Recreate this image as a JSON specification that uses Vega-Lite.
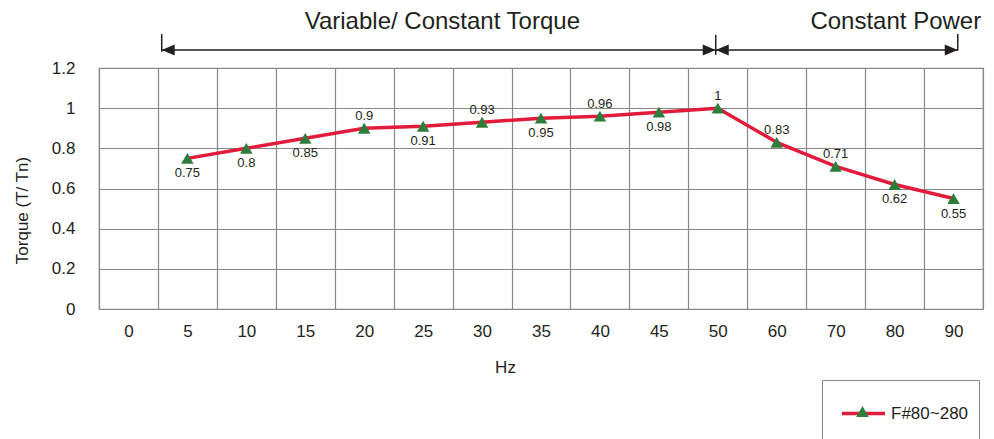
{
  "$schema": "https://vega.github.io/schema/vega-lite/v6.json",
  "autosize": "none",
  "width": 884,
  "height": 241,
  "padding": {"left": 99, "top": 68, "right": 11, "bottom": 130},
  "background": "white",
  "config": {
    "font": "Liberation Sans",
    "view": {"stroke": "#888", "strokeWidth": 1.2},
    "axis": {"labelColor": "#231f20", "titleColor": "#231f20", "titleFontWeight": "normal"}
  },
  "datasets": {
    "torque": [
      {"Hz": 5, "Torque": 0.75, "series": "F#80~280"},
      {"Hz": 10, "Torque": 0.8, "series": "F#80~280"},
      {"Hz": 15, "Torque": 0.85, "series": "F#80~280"},
      {"Hz": 20, "Torque": 0.9, "series": "F#80~280"},
      {"Hz": 25, "Torque": 0.91, "series": "F#80~280"},
      {"Hz": 30, "Torque": 0.93, "series": "F#80~280"},
      {"Hz": 35, "Torque": 0.95, "series": "F#80~280"},
      {"Hz": 40, "Torque": 0.96, "series": "F#80~280"},
      {"Hz": 45, "Torque": 0.98, "series": "F#80~280"},
      {"Hz": 50, "Torque": 1, "series": "F#80~280"},
      {"Hz": 60, "Torque": 0.83, "series": "F#80~280"},
      {"Hz": 70, "Torque": 0.71, "series": "F#80~280"},
      {"Hz": 80, "Torque": 0.62, "series": "F#80~280"},
      {"Hz": 90, "Torque": 0.55, "series": "F#80~280"}
    ],
    "spans": [
      {"from": 1.064, "to": 10.465, "level": 1.29},
      {"from": 10.465, "to": 14.572, "level": 1.29}
    ],
    "ticks": [
      {"at": 1.064, "top": 1.369, "bottom": 1.281},
      {"at": 10.465, "top": 1.365, "bottom": 1.265},
      {"at": 14.572, "top": 1.369, "bottom": 1.286}
    ],
    "heads": [
      {"tip": 1.064, "level": 1.29, "dir": "left"},
      {"tip": 10.465, "level": 1.29, "dir": "right"},
      {"tip": 10.465, "level": 1.29, "dir": "left"},
      {"tip": 14.572, "level": 1.29, "dir": "right"}
    ],
    "labels": [
      {"text": "Variable/ Constant Torque", "at": 5.826, "level": 1.395},
      {"text": "Constant Power", "at": 13.52, "level": 1.395}
    ]
  },
  "layer": [
    {
      "data": {"name": "torque"},
      "encoding": {
        "x": {
          "field": "Hz",
          "type": "ordinal",
          "bandPosition": 0.5,
          "scale": {"type": "band", "domain": [0, 5, 10, 15, 20, 25, 30, 35, 40, 45, 50, 60, 70, 80, 90], "paddingInner": 0, "paddingOuter": 0},
          "axis": {
            "title": "Hz",
            "titleFontSize": 17,
            "titlePadding": 20,
            "titleX": 406,
            "labelFontSize": 17,
            "labelPadding": 14,
            "labelAngle": 0,
            "ticks": false,
            "domain": false,
            "grid": true,
            "tickBand": "extent",
            "gridColor": "#888",
            "gridWidth": 1.2
          }
        },
        "y": {
          "field": "Torque",
          "type": "quantitative",
          "scale": {"domain": [0, 1.2]},
          "axis": {
            "title": "Torque (T/ Tn)",
            "titleFontSize": 17,
            "titlePadding": 20,
            "titleY": 142,
            "values": [0, 0.2, 0.4, 0.6, 0.8, 1, 1.2],
            "format": "~g",
            "labelFontSize": 17,
            "labelPadding": 24,
            "ticks": false,
            "domain": false,
            "grid": true,
            "gridColor": "#888",
            "gridWidth": 1.2
          }
        }
      },
      "layer": [
        {
          "mark": {"type": "line", "strokeWidth": 3.5},
          "encoding": {
            "color": {
              "field": "series",
              "type": "nominal",
              "scale": {"domain": ["F#80~280"], "range": ["#e31b3b"]},
              "legend": {
                "orient": "none",
                "legendX": 723,
                "legendY": 312,
                "title": " ",
                "titleOrient": "bottom",
                "titleFontSize": 10,
                "titlePadding": 8,
                "symbolType": "stroke",
                "symbolSize": 1849,
                "symbolStrokeWidth": 3.5,
                "labelFontSize": 17,
                "labelColor": "#231f20",
                "labelExpr": "datum.label + '  '",
                "padding": 10,
                "symbolOffset": 8,
                "strokeColor": "#888",
                "fillColor": "white"
              }
            }
          }
        },
        {
          "mark": {"type": "point", "filled": true, "color": "#2e7d3a", "size": 156, "opacity": 1},
          "encoding": {
            "shape": {
              "field": "series",
              "type": "nominal",
              "scale": {"range": ["triangle-up"]},
              "legend": {
                "orient": "none",
                "legendX": 757,
                "legendY": 337,
                "title": null,
                "symbolSize": 156,
                "symbolFillColor": "#2e7d3a",
                "symbolStrokeWidth": 0,
                "symbolOpacity": 1,
                "labelExpr": "''",
                "labelFontSize": 1,
                "padding": 0,
                "zindex": 1
              }
            }
          }
        },
        {
          "transform": [{"filter": "indexof([20, 30, 40, 50, 60, 70], datum.Hz) >= 0"}],
          "mark": {"type": "text", "fontSize": 13, "dy": -12.5, "baseline": "middle", "color": "#231f20"},
          "encoding": {"text": {"field": "Torque", "type": "quantitative", "format": "~g"}}
        },
        {
          "transform": [{"filter": "indexof([20, 30, 40, 50, 60, 70], datum.Hz) < 0"}],
          "mark": {"type": "text", "fontSize": 13, "dy": 15, "baseline": "middle", "color": "#231f20"},
          "encoding": {"text": {"field": "Torque", "type": "quantitative", "format": "~g"}}
        }
      ]
    },
    {
      "layer": [
        {
          "data": {"name": "spans"},
          "mark": {"type": "rule", "strokeWidth": 1.5, "color": "#231f20"},
          "encoding": {
            "x": {"field": "from", "type": "quantitative", "scale": {"domain": [0, 15], "nice": false, "zero": false}, "axis": null},
            "x2": {"field": "to"},
            "y": {"field": "level", "type": "quantitative", "scale": {"domain": [0, 1.2]}, "axis": null}
          }
        },
        {
          "data": {"name": "ticks"},
          "mark": {"type": "rule", "strokeWidth": 1.5, "color": "#231f20"},
          "encoding": {
            "x": {"field": "at", "type": "quantitative", "scale": {"domain": [0, 15], "nice": false, "zero": false}, "axis": null},
            "y": {"field": "top", "type": "quantitative", "scale": {"domain": [0, 1.2]}, "axis": null},
            "y2": {"field": "bottom"}
          }
        },
        {
          "data": {"name": "heads"},
          "transform": [{"filter": "datum.dir == 'right'"}],
          "mark": {"type": "point", "filled": true, "color": "#231f20", "opacity": 1, "size": 169, "shape": "M0,0L-2,-0.85L-2,0.85Z"},
          "encoding": {
            "x": {"field": "tip", "type": "quantitative", "scale": {"domain": [0, 15], "nice": false, "zero": false}, "axis": null},
            "y": {"field": "level", "type": "quantitative", "scale": {"domain": [0, 1.2]}, "axis": null}
          }
        },
        {
          "data": {"name": "heads"},
          "transform": [{"filter": "datum.dir == 'left'"}],
          "mark": {"type": "point", "filled": true, "color": "#231f20", "opacity": 1, "size": 169, "shape": "M0,0L2,-0.85L2,0.85Z"},
          "encoding": {
            "x": {"field": "tip", "type": "quantitative", "scale": {"domain": [0, 15], "nice": false, "zero": false}, "axis": null},
            "y": {"field": "level", "type": "quantitative", "scale": {"domain": [0, 1.2]}, "axis": null}
          }
        },
        {
          "data": {"name": "labels"},
          "mark": {"type": "text", "fontSize": 24, "align": "center", "baseline": "alphabetic", "color": "#231f20"},
          "encoding": {
            "x": {"field": "at", "type": "quantitative", "scale": {"domain": [0, 15], "nice": false, "zero": false}, "axis": null},
            "y": {"field": "level", "type": "quantitative", "scale": {"domain": [0, 1.2]}, "axis": null},
            "text": {"field": "text"}
          }
        }
      ]
    }
  ],
  "resolve": {"scale": {"x": "independent"}, "axis": {"x": "independent", "y": "independent"}}
}
